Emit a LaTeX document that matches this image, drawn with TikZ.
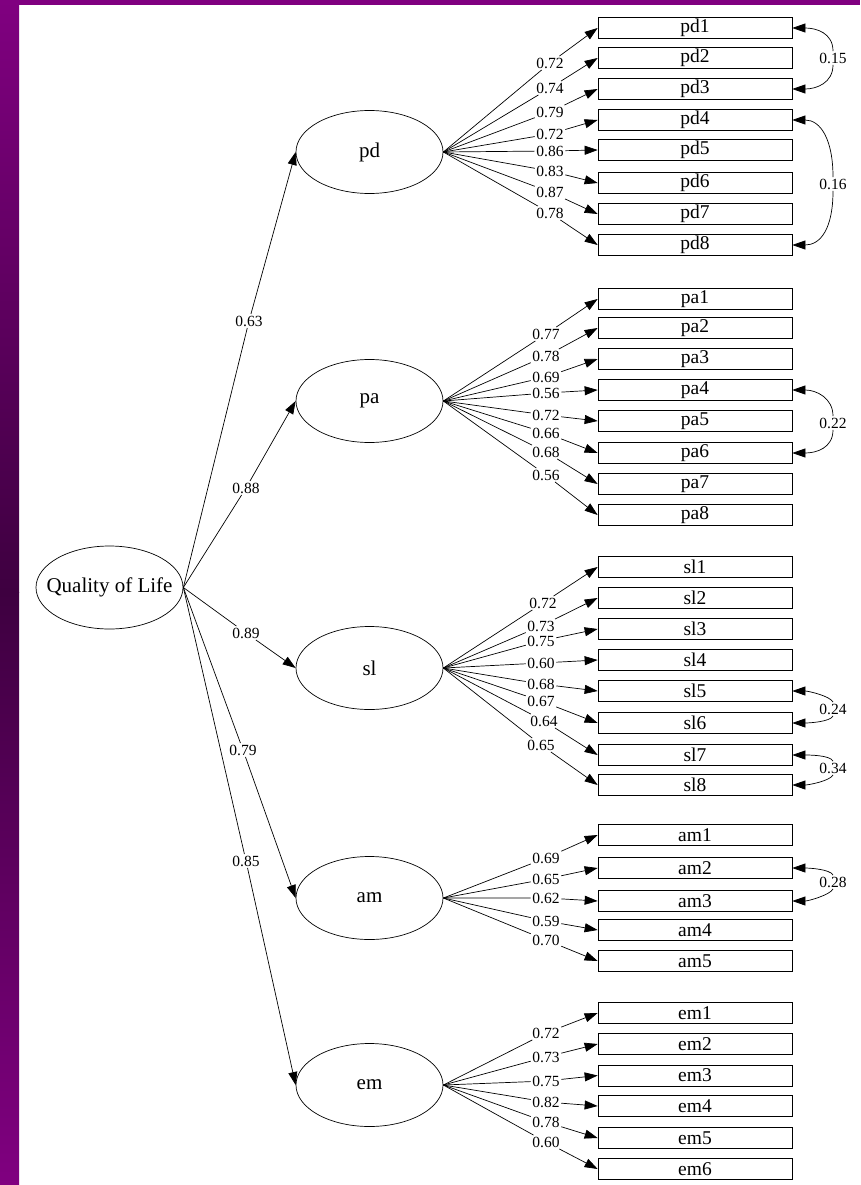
\documentclass[tikz,border=0pt]{standalone}
\usepackage{fontspec}
\setmainfont{Liberation Serif}
\usetikzlibrary{shapes.geometric,arrows.meta}
\definecolor{bandpurple}{RGB}{128,0,128}
\definecolor{banddark}{RGB}{62,0,64}
\tikzset{
  latent/.style={draw, ellipse, minimum width=147pt, minimum height=83pt, inner sep=0pt, line width=0.7pt, font=\fontsize{21}{23}\selectfont},
  indic/.style={draw, rectangle, minimum width=194pt, minimum height=21pt, inner sep=0pt, line width=0.7pt, font=\fontsize{19.5}{21}\selectfont},
  coef/.style={inner sep=1.5pt, font=\fontsize{15.5}{17}\selectfont},
  arrowline/.style={line width=0.7pt, -{Triangle[length=13pt,width=9pt]}}
}
\begin{document}
\begin{tikzpicture}[x=1pt, y=-1pt]
% page and purple frame
\useasboundingbox (0,0) rectangle (860,1185);
\fill[white] (0,0) rectangle (860,1185);
\shade[top color=bandpurple, bottom color=banddark] (0,0) rectangle (19,592);
\shade[top color=banddark, bottom color=bandpurple] (0,592) rectangle (19,1185);
\fill[bandpurple] (0,0) rectangle (860,5);

% Latent variables
\node[latent, inner xsep=-24pt] (qol) at (109.5,587.5) {Quality of Life};
\node[latent] (pd) at (369.5,152) {pd};
\node[latent] (pa) at (369.5,401) {pa};
\node[latent] (sl) at (369.5,668) {sl};
\node[latent] (am) at (369.5,898) {am};
\node[latent] (em) at (369.5,1085) {em};

% Second order loadings
\node[coef] (lpd) at (249,321) {0.63};
\node[coef] (lpa) at (246,488) {0.88};
\node[coef] (lsl) at (246,633) {0.89};
\node[coef] (lam) at (243,750) {0.79};
\node[coef] (lem) at (246,861) {0.85};
\draw[arrowline] (qol.east) -- (lpd) -- (pd.west);
\draw[arrowline] (qol.east) -- (lpa) -- (pa.west);
\draw[arrowline] (qol.east) -- (lsl) -- (sl.west);
\draw[arrowline] (qol.east) -- (lam) -- (am.west);
\draw[arrowline] (qol.east) -- (lem) -- (em.west);

% Indicators of pd
\node[indic] (pd1) at (695,28) {pd1};
\node[coef] (lpd1) at (550,63) {0.72};
\draw[arrowline] (pd.east) -- (lpd1) -- (pd1.west);
\node[indic] (pd2) at (695,58) {pd2};
\node[coef] (lpd2) at (550,88) {0.74};
\draw[arrowline] (pd.east) -- (lpd2) -- (pd2.west);
\node[indic] (pd3) at (695,89) {pd3};
\node[coef] (lpd3) at (550,112) {0.79};
\draw[arrowline] (pd.east) -- (lpd3) -- (pd3.west);
\node[indic] (pd4) at (695,120) {pd4};
\node[coef] (lpd4) at (550,134) {0.72};
\draw[arrowline] (pd.east) -- (lpd4) -- (pd4.west);
\node[indic] (pd5) at (695,150) {pd5};
\node[coef] (lpd5) at (550,151) {0.86};
\draw[arrowline] (pd.east) -- (lpd5) -- (pd5.west);
\node[indic] (pd6) at (695,183) {pd6};
\node[coef] (lpd6) at (550,171) {0.83};
\draw[arrowline] (pd.east) -- (lpd6) -- (pd6.west);
\node[indic] (pd7) at (695,214) {pd7};
\node[coef] (lpd7) at (550,192) {0.87};
\draw[arrowline] (pd.east) -- (lpd7) -- (pd7.west);
\node[indic] (pd8) at (695,245) {pd8};
\node[coef] (lpd8) at (550,213) {0.78};
\draw[arrowline] (pd.east) -- (lpd8) -- (pd8.west);

% Indicators of pa
\node[indic] (pa1) at (695,299) {pa1};
\node[coef] (lpa1) at (546,334) {0.77};
\draw[arrowline] (pa.east) -- (lpa1) -- (pa1.west);
\node[indic] (pa2) at (695,328) {pa2};
\node[coef] (lpa2) at (546,356) {0.78};
\draw[arrowline] (pa.east) -- (lpa2) -- (pa2.west);
\node[indic] (pa3) at (695,359) {pa3};
\node[coef] (lpa3) at (546,377) {0.69};
\draw[arrowline] (pa.east) -- (lpa3) -- (pa3.west);
\node[indic] (pa4) at (695,390) {pa4};
\node[coef] (lpa4) at (546,393) {0.56};
\draw[arrowline] (pa.east) -- (lpa4) -- (pa4.west);
\node[indic] (pa5) at (695,421) {pa5};
\node[coef] (lpa5) at (546,415) {0.72};
\draw[arrowline] (pa.east) -- (lpa5) -- (pa5.west);
\node[indic] (pa6) at (695,453) {pa6};
\node[coef] (lpa6) at (546,433) {0.66};
\draw[arrowline] (pa.east) -- (lpa6) -- (pa6.west);
\node[indic] (pa7) at (695,484) {pa7};
\node[coef] (lpa7) at (546,452) {0.68};
\draw[arrowline] (pa.east) -- (lpa7) -- (pa7.west);
\node[indic] (pa8) at (695,515) {pa8};
\node[coef] (lpa8) at (546,475) {0.56};
\draw[arrowline] (pa.east) -- (lpa8) -- (pa8.west);

% Indicators of sl
\node[indic] (sl1) at (695,567) {sl1};
\node[coef] (lsl1) at (543,603) {0.72};
\draw[arrowline] (sl.east) -- (lsl1) -- (sl1.west);
\node[indic] (sl2) at (695,598) {sl2};
\node[coef] (lsl2) at (541,626) {0.73};
\draw[arrowline] (sl.east) -- (lsl2) -- (sl2.west);
\node[indic] (sl3) at (695,629) {sl3};
\node[coef] (lsl3) at (541,641) {0.75};
\draw[arrowline] (sl.east) -- (lsl3) -- (sl3.west);
\node[indic] (sl4) at (695,660) {sl4};
\node[coef] (lsl4) at (541,663) {0.60};
\draw[arrowline] (sl.east) -- (lsl4) -- (sl4.west);
\node[indic] (sl5) at (695,691) {sl5};
\node[coef] (lsl5) at (541,684) {0.68};
\draw[arrowline] (sl.east) -- (lsl5) -- (sl5.west);
\node[indic] (sl6) at (695,723) {sl6};
\node[coef] (lsl6) at (541,701) {0.67};
\draw[arrowline] (sl.east) -- (lsl6) -- (sl6.west);
\node[indic] (sl7) at (695,755) {sl7};
\node[coef] (lsl7) at (544,721) {0.64};
\draw[arrowline] (sl.east) -- (lsl7) -- (sl7.west);
\node[indic] (sl8) at (695,785) {sl8};
\node[coef] (lsl8) at (541,745) {0.65};
\draw[arrowline] (sl.east) -- (lsl8) -- (sl8.west);

% Indicators of am
\node[indic] (am1) at (695,835) {am1};
\node[coef] (lam1) at (546,858) {0.69};
\draw[arrowline] (am.east) -- (lam1) -- (am1.west);
\node[indic] (am2) at (695,868) {am2};
\node[coef] (lam2) at (546,879) {0.65};
\draw[arrowline] (am.east) -- (lam2) -- (am2.west);
\node[indic] (am3) at (695,901) {am3};
\node[coef] (lam3) at (546,898) {0.62};
\draw[arrowline] (am.east) -- (lam3) -- (am3.west);
\node[indic] (am4) at (695,930) {am4};
\node[coef] (lam4) at (546,921) {0.59};
\draw[arrowline] (am.east) -- (lam4) -- (am4.west);
\node[indic] (am5) at (695,961) {am5};
\node[coef] (lam5) at (546,940) {0.70};
\draw[arrowline] (am.east) -- (lam5) -- (am5.west);

% Indicators of em
\node[indic] (em1) at (695,1013) {em1};
\node[coef] (lem1) at (546,1033) {0.72};
\draw[arrowline] (em.east) -- (lem1) -- (em1.west);
\node[indic] (em2) at (695,1044) {em2};
\node[coef] (lem2) at (546,1057) {0.73};
\draw[arrowline] (em.east) -- (lem2) -- (em2.west);
\node[indic] (em3) at (695,1075.5) {em3};
\node[coef] (lem3) at (546,1081) {0.75};
\draw[arrowline] (em.east) -- (lem3) -- (em3.west);
\node[indic] (em4) at (695,1106) {em4};
\node[coef] (lem4) at (546,1102) {0.82};
\draw[arrowline] (em.east) -- (lem4) -- (em4.west);
\node[indic] (em5) at (695,1138) {em5};
\node[coef] (lem5) at (546,1122) {0.78};
\draw[arrowline] (em.east) -- (lem5) -- (em5.west);
\node[indic] (em6) at (695,1169) {em6};
\node[coef] (lem6) at (546,1142) {0.60};
\draw[arrowline] (em.east) -- (lem6) -- (em6.west);

% Error covariances
\node[coef] (cpd13) at (833,58) {0.15};
\draw[arrowline] (cpd13.north) .. controls +(0,-18) and +(24,0) .. (pd1.east);
\draw[arrowline] (cpd13.south) .. controls +(0,18) and +(24,0) .. (pd3.east);
\node[coef] (cpd48) at (833,184) {0.16};
\draw[arrowline] (cpd48.north) .. controls +(0,-38) and +(28,0) .. (pd4.east);
\draw[arrowline] (cpd48.south) .. controls +(0,38) and +(28,0) .. (pd8.east);
\node[coef] (cpa46) at (833,423) {0.22};
\draw[arrowline] (cpa46.north) .. controls +(0,-18) and +(24,0) .. (pa4.east);
\draw[arrowline] (cpa46.south) .. controls +(0,18) and +(24,0) .. (pa6.east);
\node[coef] (csl56) at (833,709) {0.24};
\draw[arrowline] (csl56.north) .. controls +(-3,-6) and +(16,0) .. (sl5.east);
\draw[arrowline] (csl56.south) .. controls +(-3,6) and +(16,0) .. (sl6.east);
\node[coef] (csl78) at (833,768) {0.34};
\draw[arrowline] (csl78.north) .. controls +(-3,-6) and +(16,0) .. (sl7.east);
\draw[arrowline] (csl78.south) .. controls +(-3,6) and +(16,0) .. (sl8.east);
\node[coef] (cam23) at (833,882) {0.28};
\draw[arrowline] (cam23.north) .. controls +(-3,-6) and +(16,0) .. (am2.east);
\draw[arrowline] (cam23.south) .. controls +(-3,6) and +(16,0) .. (am3.east);
\end{tikzpicture}
\end{document}
